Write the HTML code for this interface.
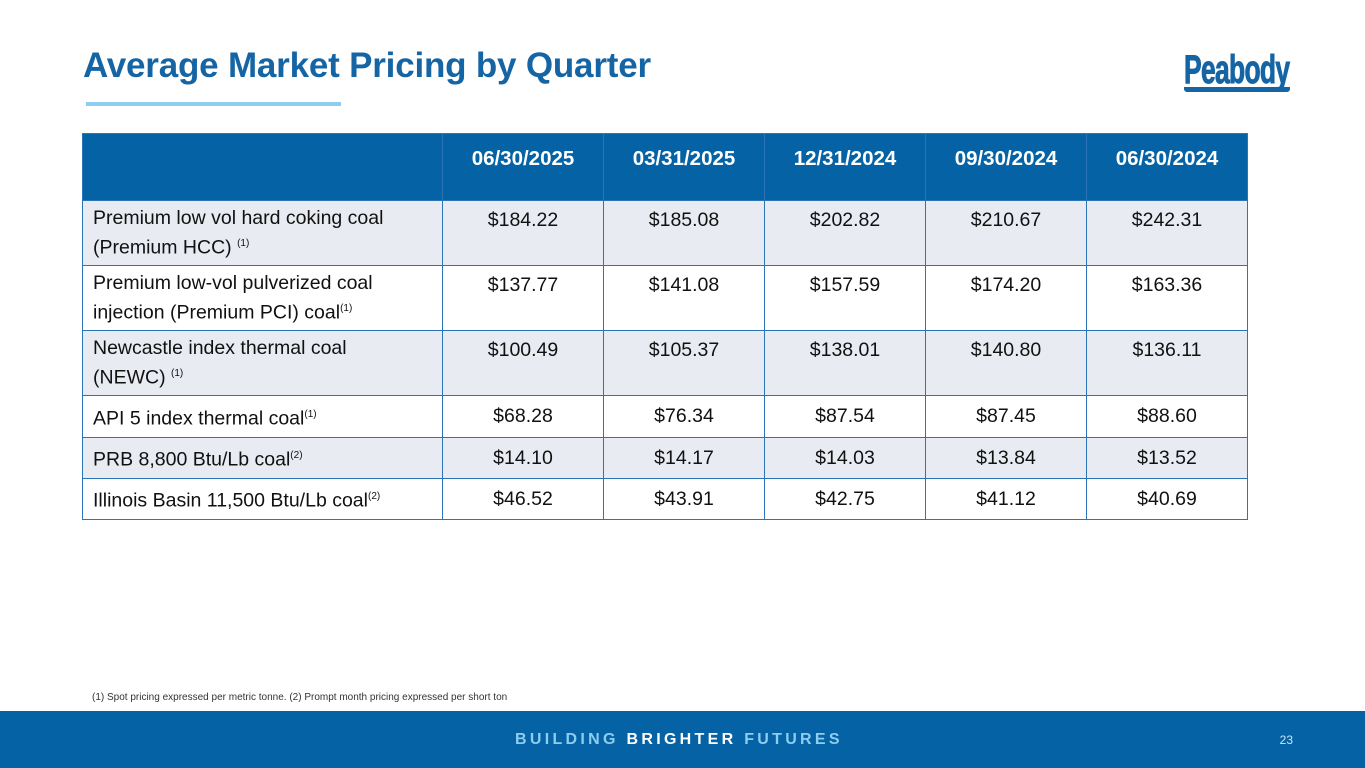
<!DOCTYPE html>
<html><head><meta charset="utf-8">
<style>
body{margin:0;width:1365px;height:768px;position:relative;background:#fff;font-family:"Liberation Sans",sans-serif;overflow:hidden}
#title{position:absolute;left:83px;top:46px;font-size:35px;font-weight:bold;color:#1565a5;letter-spacing:-0.2px}
#bar{position:absolute;left:86px;top:102px;width:255px;height:4px;background:#8dcdf0}
#logo{position:absolute;left:1184px;top:52px;font-size:40px;font-weight:bold;color:#1565a5;transform:scaleX(0.66);transform-origin:left;letter-spacing:-1px;line-height:36px;-webkit-text-stroke:1px #1565a5}
#logoline{position:absolute;left:1184px;top:87px;width:106px;height:5px;background:#1565a5;border-radius:0 0 3px 3px}
table{position:absolute;left:82px;top:133px;border-collapse:collapse;font-size:19.5px;color:#111}
td,th{border:1.5px solid #2b74b8;padding:0}
th{background:#0563a5;color:#fff;height:50px;padding-bottom:16px;font-weight:bold;text-align:center;font-size:20.5px}
td{vertical-align:top;text-align:center;padding-top:8px}
td.l{text-align:left;padding-left:10px;line-height:26px;padding-top:4px;font-size:19.5px}
td.m{vertical-align:middle;padding-top:0}
tr.a td{background:#e9ebf2}
sup{font-size:10px}
#note{position:absolute;left:92px;top:692px;font-size:10px;color:#333}
#footer{position:absolute;left:0;top:711px;width:1365px;height:57px;background:#0563a5}
#tag{position:absolute;left:515px;top:20px;font-size:16px;font-weight:bold;letter-spacing:3.3px;color:#8dcdf0}
#tag b{color:#fff}
#pg{position:absolute;right:72px;top:22px;font-size:12px;color:#cfe3f3}
</style></head><body>
<div id="title">Average Market Pricing by Quarter</div>
<div id="bar"></div>
<div id="logo">Peabody</div>
<div id="logoline"></div>
<table>
<tr><th style="width:359px"></th><th style="width:160px">06/30/2025</th><th style="width:160px">03/31/2025</th><th style="width:160px">12/31/2024</th><th style="width:160px">09/30/2024</th><th style="width:160px">06/30/2024</th></tr>
<tr class="a" style="height:65px"><td class="l">Premium low vol hard coking coal<br>(Premium HCC) <sup>(1)</sup></td><td>$184.22</td><td>$185.08</td><td>$202.82</td><td>$210.67</td><td>$242.31</td></tr>
<tr style="height:65px"><td class="l">Premium low-vol pulverized coal<br>injection (Premium PCI) coal<sup>(1)</sup></td><td>$137.77</td><td>$141.08</td><td>$157.59</td><td>$174.20</td><td>$163.36</td></tr>
<tr class="a" style="height:65px"><td class="l">Newcastle index thermal coal<br>(NEWC) <sup>(1)</sup></td><td>$100.49</td><td>$105.37</td><td>$138.01</td><td>$140.80</td><td>$136.11</td></tr>
<tr style="height:42px"><td class="l m">API 5 index thermal coal<sup>(1)</sup></td><td class="m">$68.28</td><td class="m">$76.34</td><td class="m">$87.54</td><td class="m">$87.45</td><td class="m">$88.60</td></tr>
<tr class="a" style="height:41px"><td class="l m">PRB 8,800 Btu/Lb coal<sup>(2)</sup></td><td class="m">$14.10</td><td class="m">$14.17</td><td class="m">$14.03</td><td class="m">$13.84</td><td class="m">$13.52</td></tr>
<tr style="height:41px"><td class="l m">Illinois Basin 11,500 Btu/Lb coal<sup>(2)</sup></td><td class="m">$46.52</td><td class="m">$43.91</td><td class="m">$42.75</td><td class="m">$41.12</td><td class="m">$40.69</td></tr>
</table>
<div id="note">(1) Spot pricing expressed per metric tonne. (2) Prompt month pricing expressed per short ton</div>
<div id="footer">
<div id="tag">BUILDING <b>BRIGHTER</b> FUTURES</div>
<div id="pg">23</div>
</div>
</body></html>
